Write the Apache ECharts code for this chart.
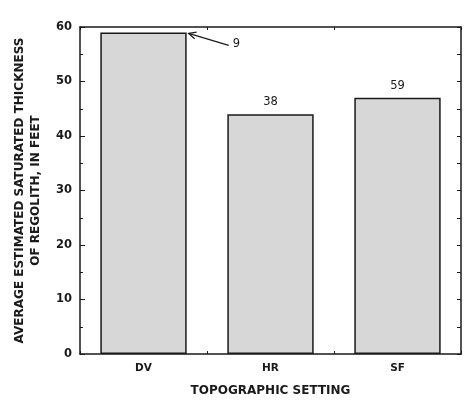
<!DOCTYPE html>
<html>
<head>
<meta charset="utf-8">
<script src="https://cdn.jsdelivr.net/npm/echarts@6/dist/echarts.min.js"></script>
<style>
  html, body { margin: 0; padding: 0; background: #fff; }
  #chart { width: 465px; height: 402px; }
</style>
</head>
<body>
<div id="chart"></div>
<script>
// Topographic settings and average estimated saturated regolith thickness (feet)
const settings = ['DV', 'HR', 'SF'];
const thickness = [59, 44, 47];
// Number of wells in each setting, printed above the bars
const wellCounts = [9, 38, 59];
const yTicks = [0, 10, 20, 30, 40, 50, 60];

const FONT = '"DejaVu Sans", Verdana, sans-serif';
const INK = '#1a1a1a';
const BAR_WIDTH = '68%';

const chart = echarts.init(document.getElementById('chart'), null, { renderer: 'canvas' });

chart.setOption({
  animation: false,
  backgroundColor: '#ffffff',
  grid: { left: 80, right: 4, top: 27, bottom: 45, containLabel: false },
  xAxis: [
    {
      type: 'category',
      data: settings,
      boundaryGap: true,
      name: 'TOPOGRAPHIC SETTING',
      nameLocation: 'middle',
      nameGap: 31,
      nameTextStyle: { fontFamily: FONT, fontWeight: 'bold', fontSize: 12, color: INK },
      axisLine: { show: true, lineStyle: { color: INK, width: 1.5 } },
      axisTick: { show: true, inside: true, length: 3, alignWithLabel: false, lineStyle: { color: INK, width: 1 } },
      axisLabel: { fontFamily: FONT, fontWeight: 'bold', fontSize: 10.5, color: INK, margin: 9 },
      splitLine: { show: false }
    },
    {
      type: 'category',
      data: settings,
      position: 'top',
      axisLine: { show: true, onZero: false, lineStyle: { color: INK, width: 1.5 } },
      axisTick: { show: true, inside: true, length: 3, lineStyle: { color: INK, width: 1 } },
      axisLabel: { show: false },
      splitLine: { show: false }
    }
  ],
  yAxis: [
    {
      type: 'value',
      min: 0,
      max: 60,
      interval: 10,
      name: 'AVERAGE ESTIMATED SATURATED THICKNESS\nOF REGOLITH, IN FEET',
      nameLocation: 'middle',
      nameRotate: 90,
      nameGap: 36,
      nameTextStyle: { fontFamily: FONT, fontWeight: 'bold', fontSize: 12, color: INK, lineHeight: 16, align: 'center' },
      axisLine: { show: true, onZero: false, lineStyle: { color: INK, width: 1.5 } },
      axisTick: { show: true, inside: true, length: 5, lineStyle: { color: INK, width: 1 } },
      minorTick: { show: true, splitNumber: 2, length: 3, lineStyle: { color: INK, width: 1 } },
      axisLabel: {
        fontFamily: FONT, fontWeight: 'bold', fontSize: 11.5, color: INK, margin: 8,
        formatter: v => (yTicks.indexOf(v) >= 0 ? String(v) : '')
      },
      splitLine: { show: false }
    },
    {
      type: 'value',
      min: 0,
      max: 60,
      interval: 5,
      position: 'right',
      axisLine: { show: true, onZero: false, lineStyle: { color: INK, width: 1.5 } },
      axisTick: { show: true, inside: true, length: 4, lineStyle: { color: INK, width: 1 } },
      axisLabel: { show: false },
      splitLine: { show: false }
    }
  ],
  series: [
    {
      type: 'bar',
      data: thickness,
      barWidth: BAR_WIDTH,
      itemStyle: { color: '#d7d7d7', borderColor: INK, borderWidth: 1.5 },
      label: {
        show: true,
        position: 'top',
        distance: 6,
        fontFamily: FONT,
        fontSize: 11.5,
        color: INK,
        formatter: p => (p.dataIndex === 0 ? '' : String(wellCounts[p.dataIndex]))
      }
    }
  ]
});

// Leader arrow pointing at the top-right corner of the first bar, with its well count
function drawLeader() {
  const center = chart.convertToPixel({ xAxisIndex: 0, yAxisIndex: 0 }, [settings[0], thickness[0]]);
  const left = chart.convertToPixel({ xAxisIndex: 0 }, settings[0]);
  const right = chart.convertToPixel({ xAxisIndex: 0 }, settings[1]);
  const halfBar = (right - left) * 0.68 / 2;
  const tipX = center[0] + halfBar + 2;
  const tipY = center[1] + 1;
  const tailX = tipX + 40;
  const tailY = tipY + 12;
  const ang = Math.atan2(tipY - tailY, tipX - tailX);
  const headLen = 8, headSpread = 0.45;
  chart.setOption({
    graphic: [
      {
        type: 'line',
        shape: { x1: tailX, y1: tailY, x2: tipX, y2: tipY },
        style: { stroke: INK, lineWidth: 1.3 }
      },
      {
        type: 'polyline',
        shape: {
          points: [
            [tipX - headLen * Math.cos(ang - headSpread), tipY - headLen * Math.sin(ang - headSpread)],
            [tipX, tipY],
            [tipX - headLen * Math.cos(ang + headSpread), tipY - headLen * Math.sin(ang + headSpread)]
          ]
        },
        style: { stroke: INK, lineWidth: 1.3, fill: null }
      },
      {
        type: 'text',
        x: tailX + 4,
        y: tailY - 1,
        style: { text: String(wellCounts[0]), font: '11.5px ' + FONT, fill: INK, textVerticalAlign: 'middle' }
      }
    ]
  });
}
drawLeader();
</script>
</body>
</html>
